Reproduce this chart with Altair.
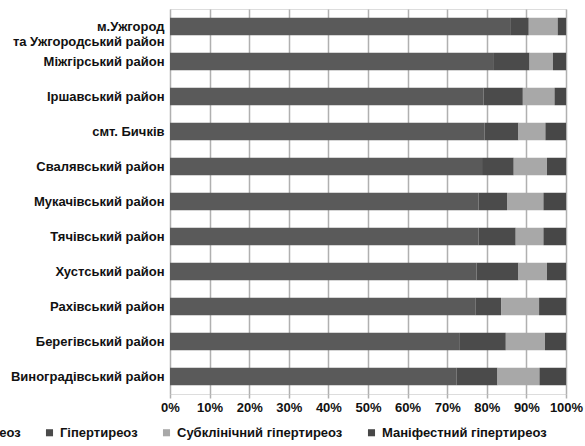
import altair as alt
import pandas as pd

districts = [
    "м.Ужгород\nта Ужгородський район",
    "Міжгірський район",
    "Іршавський район",
    "смт. Бичків",
    "Свалявський район",
    "Мукачівський район",
    "Тячівський район",
    "Хустський район",
    "Рахівський район",
    "Берегівський район",
    "Виноградівський район",
]
categories = ["Еутиреоз", "Гіпертиреоз", "Субклінічний гіпертиреоз", "Маніфестний гіпертиреоз"]
euthyroid = [85.9, 81.6, 79.2, 79.4, 78.8, 77.9, 77.9, 77.4, 77.1, 73.2, 72.4]
hyper = [4.7, 9.2, 9.9, 8.6, 8.0, 7.2, 9.4, 10.6, 6.5, 11.6, 10.3]
subclinical = [7.3, 5.9, 8.0, 6.8, 8.4, 9.2, 7.0, 7.2, 9.6, 9.9, 10.6]
manifest = [2.1, 3.3, 2.9, 5.2, 4.8, 5.7, 5.7, 4.8, 6.8, 5.3, 6.7]
colors = ["#5a5a5a", "#4b4b4b", "#a8a8a8", "#474747"]

rows = []
for i, d in enumerate(districts):
    for k, (cat, series) in enumerate(zip(categories, [euthyroid, hyper, subclinical, manifest])):
        rows.append({"district": d, "category": cat, "value": series[i], "order": k})
df = pd.DataFrame(rows)

FONT = "Liberation Sans"

chart = alt.Chart(df).mark_bar().encode(
    y=alt.Y(
        "district:N",
        sort=districts,
        title=None,
        scale=alt.Scale(paddingInner=0.5, paddingOuter=0.25),
        axis=alt.Axis(
            labelExpr="split(datum.label, '\\n')",
            labelFont=FONT,
            labelFontWeight="bold",
            labelFontSize=13,
            labelColor="#111111",
            labelPadding=6,
            ticks=False,
            domain=False,
            grid=False,
            labelLimit=300,
        ),
    ),
    x=alt.X(
        "value:Q",
        stack="normalize",
        title=None,
        scale=alt.Scale(domain=[0, 1]),
        axis=alt.Axis(
            format="%",
            values=[0, 0.1, 0.2, 0.3, 0.4, 0.5, 0.6, 0.7, 0.8, 0.9, 1.0],
            labelOverlap=False,
            labelFlush=False,
            labelFont=FONT,
            labelFontWeight="bold",
            labelFontSize=13,
            labelColor="#111111",
            labelPadding=3,
            grid=True,
            gridColor="#b0b0b0",
            gridWidth=1.5,
            tickColor="#b0b0b0",
            tickWidth=1.5,
            tickSize=4,
            domain=False,
        ),
    ),
    color=alt.Color(
        "category:N",
        scale=alt.Scale(domain=categories, range=colors),
        legend=alt.Legend(
            title=None,
            orient="none",
            direction="horizontal",
            legendX=-226,
            legendY=417,
            symbolType="square",
            symbolSize=50,
            symbolStrokeWidth=0,
            labelFont=FONT,
            labelFontWeight="bold",
            labelFontSize=13,
            labelColor="#111111",
            labelOffset=4,
            columnPadding=22,
            labelLimit=400,
        ),
    ),
    order=alt.Order("order:Q"),
).properties(
    width=396,
    height=385,
    autosize=alt.AutoSizeParams(type="none"),
    padding={"left": 170, "top": 9, "right": 19, "bottom": 52},
).configure_view(stroke=None).configure(background="white")

chart.save("out.html", embed_options={"renderer": "svg", "actions": False})
